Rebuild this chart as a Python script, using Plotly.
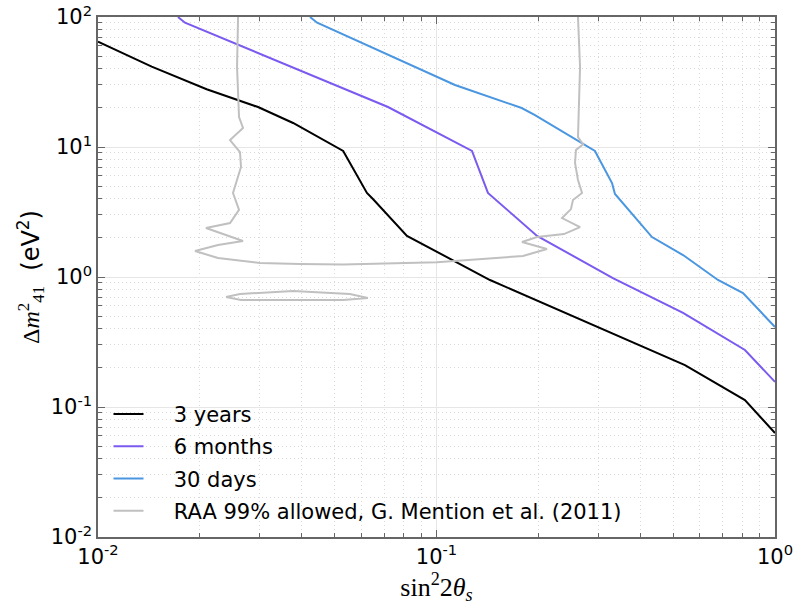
import plotly.graph_objects as go

# ---- data ----
yrs3_x = [0.01, 0.01441, 0.02094, 0.0297, 0.0377, 0.0530, 0.0623, 0.0649, 0.0818, 0.1439, 0.542, 0.815, 1.0]
yrs3_y = [64.6, 41.5, 27.8, 20.3, 15.3, 9.32, 4.43, 3.98, 2.07, 0.948, 0.210, 0.113, 0.063]

mon6_x = [0.01723, 0.01807, 0.0719, 0.1197, 0.1273, 0.1419, 0.1982, 0.332, 0.535, 0.815, 1.0]
mon6_y = [100, 90.4, 20.3, 10.0, 9.32, 4.43, 2.07, 0.982, 0.529, 0.2745, 0.156]

day30_x = [0.0423, 0.0444, 0.1134, 0.1785, 0.1954, 0.2938, 0.330, 0.3367, 0.4331, 0.535, 0.6785, 0.8044, 1.0]
day30_y = [100, 90.4, 30.0, 19.95, 17.6, 9.32, 5.28, 4.35, 2.03, 1.476, 0.948, 0.753, 0.4125]

raa_x = [0.02593, 0.02575, 0.02610, 0.02682, 0.02455, 0.02627, 0.02645, 0.02505, 0.02610, 0.02455,
         0.02084, 0.02682, 0.02262, 0.01935, 0.02262, 0.0301, 0.0395, 0.0530, 0.1003, 0.180,
         0.212, 0.1789, 0.1982, 0.2379, 0.2655, 0.2349, 0.2496, 0.2530, 0.2691, 0.2618,
         0.2566, 0.2582, 0.2710, 0.2618, 0.2655, 0.2618]
raa_y = [100, 41.2, 17.0, 14.0, 11.3, 9.15, 7.02, 4.43, 3.28, 2.60,
         2.38, 1.89, 1.76, 1.585, 1.40, 1.28, 1.26, 1.25, 1.30, 1.45,
         1.64, 1.86, 2.03, 2.14, 2.42, 2.84, 3.33, 3.91, 4.43, 5.57,
         7.53, 9.48, 10.5, 11.9, 41.2, 100]

island_x = [0.02388, 0.02627, 0.0377, 0.0555, 0.0627, 0.0530, 0.02645, 0.02388]
island_y = [0.702, 0.740, 0.780, 0.740, 0.690, 0.665, 0.665, 0.702]

names = ["3 years", "6 months", "30 days", "RAA 99% allowed, G. Mention et al. (2011)"]
colors = ["#000000", "#7b5af0", "#4a96e0", "#c0c0c0"]

x_tickvals = [0.01, 0.1, 1]
x_ticktext = ["10<sup>-2</sup>", "10<sup>-1</sup>", "10<sup>0</sup>"]
y_tickvals = [0.01, 0.1, 1, 10, 100]
y_ticktext = ["10<sup>-2</sup>", "10<sup>-1</sup>", "10<sup>0</sup>", "10<sup>1</sup>", "10<sup>2</sup>"]
x_minor = [m * d for d in (0.01, 0.1) for m in range(2, 10)]
y_minor = [m * d for d in (0.01, 0.1, 1, 10) for m in range(2, 10)]

GAP = "\u2002\u2002\u2009"

fig = go.Figure()
fig.add_trace(go.Scatter(x=yrs3_x, y=yrs3_y, mode="lines", name=GAP + names[0],
                         line=dict(color=colors[0], width=2)))
fig.add_trace(go.Scatter(x=mon6_x, y=mon6_y, mode="lines", name=GAP + names[1],
                         line=dict(color=colors[1], width=2)))
fig.add_trace(go.Scatter(x=day30_x, y=day30_y, mode="lines", name=GAP + names[2],
                         line=dict(color=colors[2], width=2)))
fig.add_trace(go.Scatter(x=raa_x, y=raa_y, mode="lines", name=GAP + names[3], legendgroup="raa",
                         line=dict(color=colors[3], width=2)))
fig.add_trace(go.Scatter(x=island_x, y=island_y, mode="lines", name=GAP + names[3], legendgroup="raa",
                         showlegend=False, line=dict(color=colors[3], width=2)))

axis_common = dict(
    type="log", automargin=False,
    ticks="inside", ticklen=7, tickwidth=1, tickcolor="#666666",
    showline=True, linecolor="#666666", linewidth=1.5, mirror="allticks",
    showgrid=True, gridcolor="#e6e6e6", gridwidth=1,
    zeroline=False,
    tickfont=dict(family="DejaVu Sans", size=21, color="#000000"),
)
minor_common = dict(ticks="inside", ticklen=4, tickcolor="#666666", showgrid=True,
                    gridcolor="#d9d9d9", griddash="1px,3px", gridwidth=1)

fig.update_layout(
    width=794, height=608,
    margin=dict(l=98, r=19, t=17, b=71),
    paper_bgcolor="white", plot_bgcolor="white",
    showlegend=True,
    legend=dict(x=0.0155, y=0.01, xanchor="left", yanchor="bottom",
                traceorder="grouped", tracegroupgap=2,
                bgcolor="rgba(0,0,0,0)", font=dict(family="DejaVu Sans", size=21, color="#000000")),
    xaxis=dict(axis_common, range=[-2, 0], tickvals=x_tickvals, ticktext=x_ticktext,
               minor=dict(minor_common, tickvals=x_minor),
               title=dict(text='sin<sup>2</sup>2<i>θ</i><sub><i>s</i></sub>',
                          font=dict(family="Liberation Serif", size=26, color="#000000"),
                          standoff=6)),
    yaxis=dict(axis_common, range=[-2, 2], tickvals=y_tickvals, ticktext=y_ticktext,
               minor=dict(minor_common, tickvals=y_minor),
               title=dict(text='<span style="font-family:Liberation Serif">Δ<i>m</i><sup>2</sup><sub>41</sub></span>  (eV<sup>2</sup>)',
                          font=dict(family="DejaVu Sans", size=24, color="#000000"),
                          standoff=4)),
)

fig.write_html("out.html")
